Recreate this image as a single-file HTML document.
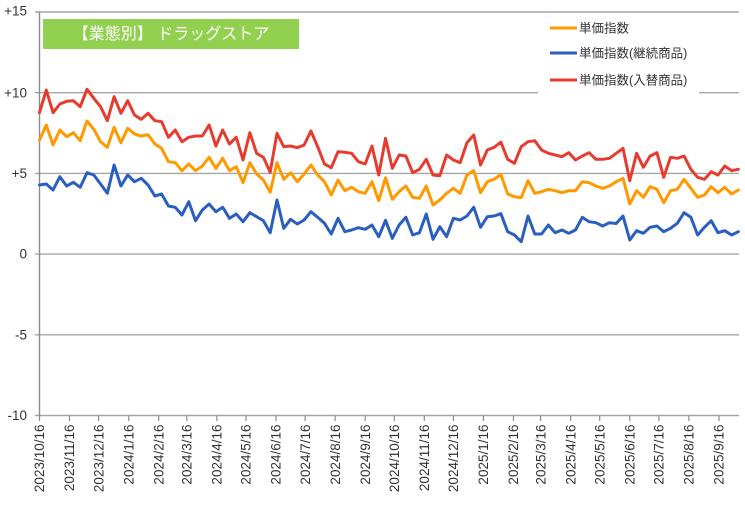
<!DOCTYPE html>
<html>
<head>
<meta charset="utf-8">
<style>
  html,body{margin:0;padding:0;background:#fff;}
  svg{display:block;}
  text{font-family:"Liberation Sans","Noto Sans CJK JP",sans-serif;}
</style>
</head>
<body>
<svg width="745" height="510" viewBox="0 0 745 510" xmlns="http://www.w3.org/2000/svg">
  <rect x="0" y="0" width="745" height="510" fill="#ffffff"/>

  <!-- gridlines -->
  <g stroke="#a6a6a6" stroke-width="1.4" fill="none">
    <line x1="35" y1="12" x2="739" y2="12"/>
    <line x1="35" y1="92.7" x2="739" y2="92.7"/>
    <line x1="35" y1="173.4" x2="739" y2="173.4"/>
    <line x1="35" y1="254.1" x2="739" y2="254.1"/>
    <line x1="35" y1="334.8" x2="739" y2="334.8"/>
    <line x1="35" y1="415.5" x2="739" y2="415.5"/>
  </g>
  <!-- y axis -->
  <line x1="39.5" y1="12" x2="39.5" y2="415.5" stroke="#8c8c8c" stroke-width="1.4"/>

  <!-- y labels -->
  <g font-size="13.5" fill="#333" text-anchor="end">
    <text x="27" y="15.5">+15</text>
    <text x="27" y="97.3">+10</text>
    <text x="27" y="178">+5</text>
    <text x="27" y="258.7">0</text>
    <text x="27" y="339.4">-5</text>
    <text x="27" y="420.1">-10</text>
  </g>

  <!-- x ticks -->
  <g stroke="#8c8c8c" stroke-width="1.2">
    <line x1="39.5" y1="415.5" x2="39.5" y2="421"/>
    <line x1="69.5" y1="415.5" x2="69.5" y2="421"/>
    <line x1="98.6" y1="415.5" x2="98.6" y2="421"/>
    <line x1="128.7" y1="415.5" x2="128.7" y2="421"/>
    <line x1="158.7" y1="415.5" x2="158.7" y2="421"/>
    <line x1="186.8" y1="415.5" x2="186.8" y2="421"/>
    <line x1="216.9" y1="415.5" x2="216.9" y2="421"/>
    <line x1="246" y1="415.5" x2="246" y2="421"/>
    <line x1="276" y1="415.5" x2="276" y2="421"/>
    <line x1="305.1" y1="415.5" x2="305.1" y2="421"/>
    <line x1="335.1" y1="415.5" x2="335.1" y2="421"/>
    <line x1="365.2" y1="415.5" x2="365.2" y2="421"/>
    <line x1="394.3" y1="415.5" x2="394.3" y2="421"/>
    <line x1="424.3" y1="415.5" x2="424.3" y2="421"/>
    <line x1="453.4" y1="415.5" x2="453.4" y2="421"/>
    <line x1="483.4" y1="415.5" x2="483.4" y2="421"/>
    <line x1="513.5" y1="415.5" x2="513.5" y2="421"/>
    <line x1="540.6" y1="415.5" x2="540.6" y2="421"/>
    <line x1="570.7" y1="415.5" x2="570.7" y2="421"/>
    <line x1="599.7" y1="415.5" x2="599.7" y2="421"/>
    <line x1="629.8" y1="415.5" x2="629.8" y2="421"/>
    <line x1="658.9" y1="415.5" x2="658.9" y2="421"/>
    <line x1="688.9" y1="415.5" x2="688.9" y2="421"/>
    <line x1="719" y1="415.5" x2="719" y2="421"/>
  </g>

  <!-- x labels -->
  <g font-size="13.5" fill="#333" text-anchor="end">
    <text transform="translate(44.2,424.5) rotate(-90)">2023/10/16</text>
    <text transform="translate(74.2,424.5) rotate(-90)">2023/11/16</text>
    <text transform="translate(103.3,424.5) rotate(-90)">2023/12/16</text>
    <text transform="translate(133.4,424.5) rotate(-90)">2024/1/16</text>
    <text transform="translate(163.4,424.5) rotate(-90)">2024/2/16</text>
    <text transform="translate(191.5,424.5) rotate(-90)">2024/3/16</text>
    <text transform="translate(221.6,424.5) rotate(-90)">2024/4/16</text>
    <text transform="translate(250.7,424.5) rotate(-90)">2024/5/16</text>
    <text transform="translate(280.7,424.5) rotate(-90)">2024/6/16</text>
    <text transform="translate(309.8,424.5) rotate(-90)">2024/7/16</text>
    <text transform="translate(339.8,424.5) rotate(-90)">2024/8/16</text>
    <text transform="translate(369.9,424.5) rotate(-90)">2024/9/16</text>
    <text transform="translate(399,424.5) rotate(-90)">2024/10/16</text>
    <text transform="translate(429,424.5) rotate(-90)">2024/11/16</text>
    <text transform="translate(458.1,424.5) rotate(-90)">2024/12/16</text>
    <text transform="translate(488.1,424.5) rotate(-90)">2025/1/16</text>
    <text transform="translate(518.2,424.5) rotate(-90)">2025/2/16</text>
    <text transform="translate(545.3,424.5) rotate(-90)">2025/3/16</text>
    <text transform="translate(575.4,424.5) rotate(-90)">2025/4/16</text>
    <text transform="translate(604.4,424.5) rotate(-90)">2025/5/16</text>
    <text transform="translate(634.5,424.5) rotate(-90)">2025/6/16</text>
    <text transform="translate(663.6,424.5) rotate(-90)">2025/7/16</text>
    <text transform="translate(693.6,424.5) rotate(-90)">2025/8/16</text>
    <text transform="translate(723.7,424.5) rotate(-90)">2025/9/16</text>
  </g>

  <!-- series -->
  <g transform="translate(39.5,0) scale(6.785,1)" fill="none" stroke-width="3" stroke-linejoin="round" stroke-linecap="round">
    <!-- orange -->
    <polyline vector-effect="non-scaling-stroke" stroke="#ff9900" points="0,140 1,125 2,145 3,130 4,136.7 5,132.7 6,140.7 7,121 8,129.3 9,141.7 10,147.3 11,127.3 12,142.7 13,128.3 14,134 15,136 16,134.7 17,144 18,148.3 19,161.7 20,162.7 21,170.7 22,164 23,170.7 24,166 25,157.3 26,168.3 27,158.3 28,170.7 29,166.7 30,182.7 31,162.7 32,174 33,180 34,192.2 35,162.7 36,179.3 37,172.7 38,181.7 39,174 40,165 41,175 42,181.7 43,195 44,180 45,190.7 46,187.3 47,191.7 48,193.3 49,181.7 50,200.7 51,177.8 52,199.3 53,191.7 54,186 55,197.3 56,198.3 57,186 58,205 59,200 60,193.3 61,188.3 62,193.3 63,175 64,170.7 65,192.7 66,181.7 67,179.3 68,174.5 69,194 70,196.7 71,197.7 72,180.7 73,193.3 74,191.7 75,189.3 76,190.7 77,192.7 78,190.7 79,190.7 80,181.7 81,182.7 82,186 83,188.3 84,186 85,181.7 86,178.3 87,204 88,190.7 89,197.3 90,186.7 91,189.3 92,202.7 93,190.7 94,189.3 95,179.3 96,188.3 97,197.3 98,195 99,186.7 100,192.7 101,187.3 102,194 103,190"/>
    <!-- blue -->
    <polyline vector-effect="non-scaling-stroke" stroke="#2a5fbf" points="0,185 1,184 2,190 3,176.7 4,186 5,182.3 6,187.3 7,172.7 8,175 9,184 10,193.3 11,165 12,186 13,175 14,181.7 15,178.3 16,185 17,196 18,194 19,206 20,207.3 21,215 22,201.7 23,220.7 24,210 25,204 26,211.7 27,207.3 28,218.3 29,214 30,221.7 31,212.7 32,216.7 33,220.7 34,232.7 35,200 36,228.3 37,219.3 38,224 39,220 40,211.7 41,217.3 42,223.3 43,234 44,218.3 45,231.7 46,230 47,227.7 48,229.3 49,225 50,236.7 51,220.3 52,238.3 53,225 54,217.3 55,235 56,232.7 57,214 58,239.3 59,226.7 60,236.7 61,218.3 62,220 63,216 64,207.3 65,227.3 66,216.7 67,216 68,213.7 69,231.7 70,235 71,241.7 72,216 73,234 74,234 75,225 76,232.7 77,230 78,233.3 79,230 80,217.3 81,221.7 82,222.7 83,226 84,222.7 85,223.5 86,216 87,240 88,230.7 89,233.3 90,227.3 91,226 92,231.7 93,228.3 94,223.3 95,212.7 96,217.3 97,235 98,227.3 99,220.7 100,232.7 101,230.7 102,235 103,231.7"/>
    <!-- red -->
    <polyline vector-effect="non-scaling-stroke" stroke="#e63c2f" points="0,112.7 1,90 2,112.7 3,104 4,101.3 5,100.7 6,106.7 7,89.3 8,98.3 9,106.7 10,120.7 11,96.7 12,113.3 13,100.7 14,115 15,119.3 16,113.3 17,120.7 18,121.7 19,137.3 20,130 21,141.7 22,137.3 23,136 24,136 25,125 26,146 27,130 28,144 29,137.3 30,160 31,132.7 32,153.3 33,157.3 34,172.2 35,133.3 36,146.7 37,146 38,147.7 39,145 40,131 41,146.7 42,164 43,167.7 44,151.7 45,152.3 46,153.3 47,161.7 48,164 49,146 50,175 51,138.3 52,168.3 53,155 54,156 55,172.7 56,169.3 57,159.3 58,175 59,175.7 60,155 61,160 62,162.7 63,142.7 64,135 65,165 66,150 67,147.3 68,142.2 69,159.3 70,163.3 71,146.7 72,141.7 73,140.7 74,150 75,153.3 76,155 77,156.7 78,152.7 79,160 80,156 81,152.7 82,159.3 83,159.3 84,158.3 85,153.3 86,148.3 87,180.7 88,153.3 89,167.3 90,156 91,152.7 92,177.3 93,157.3 94,158.3 95,156 96,169.3 97,177.3 98,179.3 99,171.7 100,175 101,166 102,170.7 103,169.3"/>
  </g>

  <!-- title box -->
  <rect x="43" y="19" width="256" height="30" fill="#92d050"/>
  <text x="171" y="39" font-size="16" fill="#ffffff" text-anchor="middle">【業態別】 ドラッグストア</text>

  <!-- legend -->
  <rect x="538" y="14" width="161" height="84" fill="#ffffff"/>
  <g stroke-width="3" stroke-linecap="butt">
    <line x1="550" y1="28" x2="577" y2="28" stroke="#ff9900"/>
    <line x1="550" y1="53" x2="577" y2="53" stroke="#2a5fbf"/>
    <line x1="550" y1="80" x2="577" y2="80" stroke="#e63c2f"/>
  </g>
  <g font-size="12.5" fill="#333">
    <text x="579" y="32.5">単価指数</text>
    <text x="579" y="57.5">単価指数(継続商品)</text>
    <text x="579" y="84.5">単価指数(入替商品)</text>
  </g>
</svg>
</body>
</html>
